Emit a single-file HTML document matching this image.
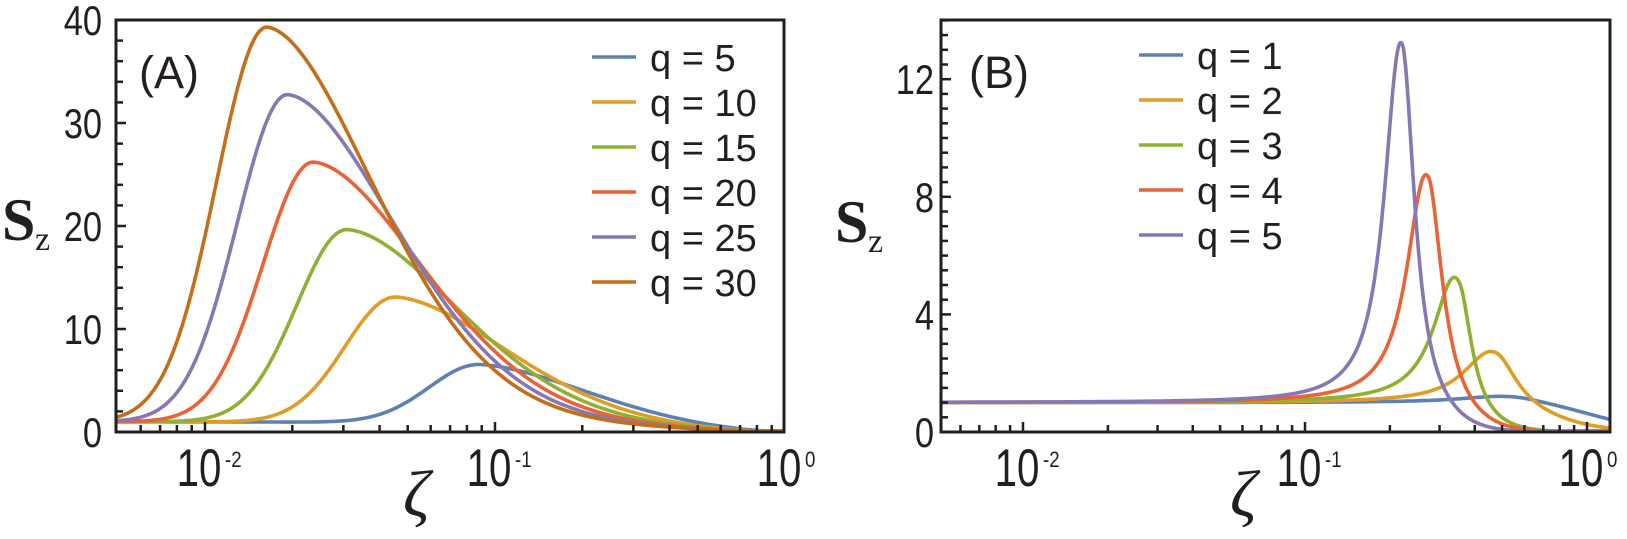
<!DOCTYPE html>
<html><head><meta charset="utf-8">
<style>
html,body{margin:0;padding:0;background:#fff;}
svg{display:block;}
text{font-family:"Liberation Sans",sans-serif;fill:#231f20;}
</style></head>
<body>
<svg id="s" width="1627" height="539" viewBox="0 0 1627 539" xmlns="http://www.w3.org/2000/svg">
<text x="139" y="88" font-size="45">(A)</text>
<text x="969" y="88" font-size="45">(B)</text>
<text x="2" y="240" font-size="60" font-weight="bold" style="font-family:'Liberation Serif',serif">S</text>
<text x="35" y="250" font-size="34" style="font-family:'Liberation Serif',serif">z</text>
<text x="835" y="242" font-size="60" font-weight="bold" style="font-family:'Liberation Serif',serif">S</text>
<text x="868" y="252" font-size="34" style="font-family:'Liberation Serif',serif">z</text>
<text x="403" y="516" font-size="66" font-style="italic" style="font-family:'Liberation Serif',serif">ζ</text>
<text x="1230" y="516" font-size="66" font-style="italic" style="font-family:'Liberation Serif',serif">ζ</text>
<g id="g"></g>
</svg>
<script>
var g=document.getElementById('g'),NS="http://www.w3.org/2000/svg";
function el(t,a,txt){var e=document.createElementNS(NS,t);for(var k in a)e.setAttribute(k,a[k]);if(txt!=null)e.textContent=txt;g.appendChild(e);return e;}
function ctext(x,y,size,sx,anchor,s){return el('text',{transform:'translate('+x+','+y+') scale('+sx+',1)','font-size':size,'text-anchor':anchor},s);}
var cols=["#5e81b5","#e19c24","#8fb032","#eb6235","#8778b3","#c56e1a"];
function panel(P){
  var X=function(z){return P.x10+Math.log10(z)*P.dec;};
  var Y=function(s){return P.y0-s*P.py;};
  var lmin=(P.x0-P.x10)/P.dec,lmax=(P.x1-P.x10)/P.dec;
  P.curves.forEach(function(f,i){
    var d="";for(var j=0;j<=900;j++){var lz=lmin+(lmax-lmin)*j/900,z=Math.pow(10,lz);var s=f(z);if(!(s>0))s=0;var y=Math.max(Y(s),P.top);y=Math.min(y,P.y0-1);d+=(j?"L":"M")+X(z).toFixed(1)+","+y.toFixed(1);}
    el('path',{d:d,fill:'none',stroke:cols[i],'stroke-width':3.6,'stroke-linejoin':'round'});
  });
  el('rect',{x:P.x0,y:P.top,width:P.x1-P.x0,height:P.y0-P.top,fill:'none',stroke:'#231f20','stroke-width':3});
  for(var v=0;v<=P.ymax+1e-6;v+=P.minor){var y=Y(v);if(y<P.top-1)break;var maj=Math.abs(v/P.major-Math.round(v/P.major))<1e-6;
    el('line',{x1:P.x0,x2:P.x0+(maj?10:7),y1:y,y2:y,stroke:'#231f20','stroke-width':2.5});
    if(maj)ctext(P.x0-P.lg,y+15,42,0.82,'end',String(v));}
  for(var e=-3;e<=0;e++)for(var m=1;m<10;m++){var z=m*Math.pow(10,e);var x=X(z);if(x<P.x0+2||x>P.x1+2)continue;
    if(x<P.x1-2)el('line',{x1:x,x2:x,y1:P.y0,y2:P.y0-(m==1?10:7),stroke:'#231f20','stroke-width':2.5});
    if(m==1){ctext(x-6,486,53,0.76,'middle',"10");
      ctext(x+20,467,22,0.85,'start',String(e));}}
  P.leg.forEach(function(l,i){var y=P.ly+i*P.ls;el('line',{x1:P.lx,x2:P.lx+44,y1:y,y2:y,stroke:cols[i],'stroke-width':3.6});
    el('text',{x:P.lx+58,y:y+14,'font-size':38},l);});
}
function curveA(q){
  var zp=(0.44+0.0017*q)/q, P=1.31*q, H=(P-Math.pow(1-zp,2))/(1-zp), a=1.38-0.004*q, sl=0.40;
  return function(z){var t=Math.log(z/zp),f;
    if(t<0)f=Math.exp(-t*t/(2*sl*sl));else f=Math.exp(-Math.pow(t/a,1.8));
    return Math.pow(1-z,2)+H*(1-z)*f;};
}
panel({x0:116,x1:784,x10:785,dec:290,top:20,y0:432,py:10.3,ymax:40,major:10,minor:2,lg:14,
 curves:[5,10,15,20,25,30].map(curveA),
 leg:["q = 5","q = 10","q = 15","q = 20","q = 25","q = 30"],lx:592,ly:57,ls:45});
function curveB(H,zp,wl,wr,zc,p){
  var m=function(z){return 1/(1+Math.pow(z/zc,p));};
  var A=H/m(zp)-1;
  return function(z){var t=Math.log(z/zp),b;
  if(t<0)b=A/(1+Math.pow(-t/wl,2.2));else b=A/(1+Math.pow(t/wr,2));
  return (1+b)*m(z);};}
panel({x0:941,x1:1610,x10:1587,dec:282,top:20,y0:432,py:29.4,ymax:14,major:4,minor:0.5,lg:7,
 curves:[curveB(1.2,0.542,0.45,0.35,1.1,4),curveB(2.7,0.475,0.28,0.22,0.73,4),curveB(5.1,0.352,0.21,0.14,0.426,6),curveB(8.7,0.273,0.19,0.15,0.389,6),curveB(13.2,0.221,0.16,0.13,0.322,6)],
 leg:["q = 1","q = 2","q = 3","q = 4","q = 5"],lx:1139,ly:55,ls:45});
</script>
</body></html>
